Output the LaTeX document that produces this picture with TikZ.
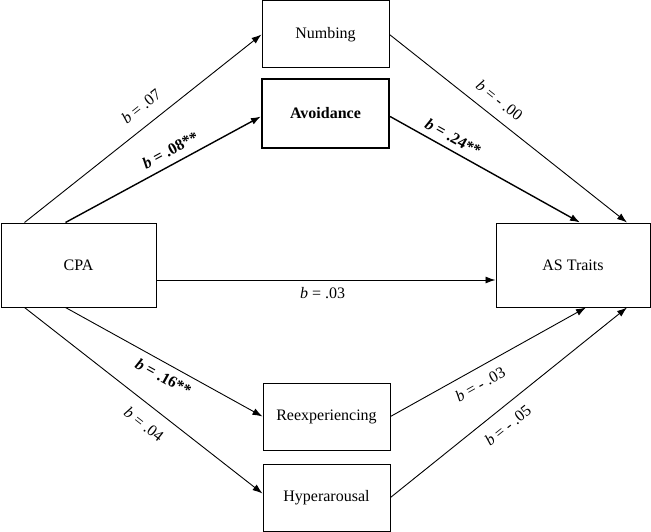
\documentclass[tikz,border=0pt]{standalone}
\usepackage{fontspec}
\setmainfont{Liberation Serif}
\usetikzlibrary{arrows.meta}

\begin{document}
\begin{tikzpicture}[x=1pt, y=-1pt,
    box/.style={draw, line width=1pt, minimum width=127pt, minimum height=67pt,
      inner sep=0pt, font=\fontsize{16}{19}\selectfont},
    link/.style={-{Latex[length=10pt,width=7pt]}, line width=0.9pt},
    sig/.style={link, line width=1.4pt},
    coef/.style={sloped, font=\fontsize{16}{19}\selectfont}]
  \useasboundingbox (0,0) rectangle (651,532);

  % Variables
  \node[box, minimum width=155pt, minimum height=84pt] (cpa) at (78.5,265) {CPA};
  \node[box, minimum width=154pt, minimum height=84pt] (as) at (573,265) {AS Traits};
  \node[box] (numb) at (325.5,34.5) {Numbing};
  \node[box, line width=2.2pt, minimum height=69pt, font=\fontsize{16}{19}\selectfont\bfseries]
    (avoid) at (325.5,113.5) {Avoidance};
  \node[box] (reexp) at (326.5,416.5) {Reexperiencing};
  \node[box] (hyper) at (326.5,497.5) {Hyperarousal};

  % Paths, upper
  \draw[link] ([xshift=24pt]cpa.north west) -- (numb.west)
    node[coef, above=9pt, pos=0.54]{\textit{b} = .07};
  \draw[sig] ([xshift=65pt]cpa.north west) -- ([yshift=-3pt]avoid.west)
    node[coef, above=4pt, pos=0.57]{\textbf{\textit{b} = .08**}};
  \draw[link] (numb.east) -- ([xshift=54pt]as.north)
    node[coef, above=7pt, pos=0.42]{\textit{b} = - .00};
  \draw[sig] ([yshift=-3pt]avoid.east) -- ([xshift=7pt]as.north)
    node[coef, above=3pt, pos=0.3]{\textbf{\textit{b} = .24**}};

  % Direct path
  \draw[link] ([yshift=-15pt]cpa.east) -- ([yshift=-15pt]as.west)
    node[coef, below=4pt, pos=0.49]{\textit{b} = .03};

  % Paths, lower
  \draw[link] ([xshift=65pt]cpa.south west) -- (reexp.west)
    node[coef, below=4pt, pos=0.53]{\textbf{\textit{b} = .16**}};
  \draw[link] ([xshift=24pt]cpa.south west) -- ([yshift=4pt]hyper.west)
    node[coef, below=9pt, pos=0.55]{\textit{b} = .04};
  \draw[link] (reexp.east) -- ([xshift=13pt]as.south)
    node[coef, below=6pt, pos=0.42]{\textit{b} = - .03};
  \draw[link] (hyper.east) -- ([xshift=54pt]as.south)
    node[coef, below=8pt, pos=0.45]{\textit{b} = - .05};
\end{tikzpicture}
\end{document}
